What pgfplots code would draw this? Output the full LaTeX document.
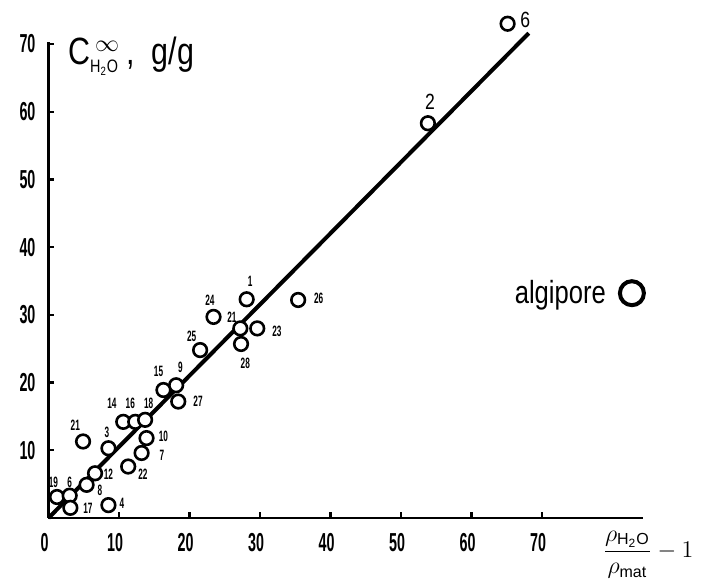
\documentclass[border=0pt]{standalone}
\usepackage{fontspec}
\setmainfont{Liberation Sans}
\newfontfamily\cond[FakeStretch=0.55]{Liberation Sans}
\newfontfamily\hand[FakeStretch=0.8]{Liberation Sans}
\usepackage{pgfplots}
\pgfplotsset{compat=1.18}
\usetikzlibrary{calc}

\pgfplotstableread{
x y
65.1 73.0
53.8 58.3
35.4 32.2
28.1 32.3
23.4 29.7
27.2 28.0
29.6 28.0
27.3 25.7
21.5 24.8
18.1 19.6
16.3 18.9
18.4 17.2
10.6 14.2
12.3 14.2
13.7 14.5
13.9 11.8
13.2 9.6
11.3 7.6
8.5 10.3
4.9 11.3
6.6 6.6
5.4 4.9
1.2 3.1
3.0 3.3
3.1 1.5
8.5 1.9
}\pts

\pgfplotstableread{
x y lab
28.6 34.9 1
22.9 32.2 24
26.0 29.7 21
32.4 27.5 23
27.9 22.9 28
38.3 32.5 26
20.3 26.8 25
18.7 22.3 9
15.6 21.6 15
21.2 17.2 27
9.0 16.9 14
11.6 16.9 16
14.2 16.9 18
16.3 12.0 10
16.1 9.3 7
13.4 6.4 22
8.3 12.7 3
3.8 13.7 21
8.5 6.4 12
7.3 4.1 8
0.7 5.2 19
3.0 5.2 6
5.6 1.4 17
10.4 2.2 4
}\labs

\pgfplotstableread{
x y lab
54.1 61.5 2
67.6 73.5 6
}\biglabs

\begin{document}
\begin{tikzpicture}
\begin{axis}[name=ax, scale only axis, width=297.25pt, height=238pt,
  xmin=0, xmax=84.3, ymin=0, ymax=70.3, clip=false,
  axis x line=bottom, axis y line=left,
  axis line style={-, line width=1.3pt},
  xtick={0,10,...,70}, ytick={10,20,...,70},
  tick align=inside, major tick length=3pt,
  tick style={line width=1.2pt, black},
  /pgf/number format/assume math mode=true,
  tick label style={font=\cond\bfseries\fontsize{13}{14}\selectfont},
  xticklabel style={yshift=-4pt, xshift=-2pt},
  yticklabel style={xshift=-3pt},
  legend plot pos=right,
  legend style={draw=none, fill=none, at={(axis cs:65.5,33.2)}, anchor=west,
    font=\hand\fontsize{16}{18}\selectfont, inner sep=0pt, column sep=5pt},
]
\addplot[line width=2pt, forget plot] coordinates {(0,0) (68.1,71.6)};
\addplot[only marks, mark=*, mark size=3.4pt,
  mark options={fill=white, draw=black, line width=1.3pt}, forget plot] table[x=x,y=y] {\pts};
\addplot[draw=none, mark=none, forget plot, nodes near coords,
  point meta=explicit symbolic,
  every node near coord/.append style={anchor=center, inner sep=0pt,
    font=\cond\bfseries\fontsize{7.5}{8}\selectfont}] table[x=x,y=y,meta=lab] {\labs};
\addplot[draw=none, mark=none, forget plot, nodes near coords,
  point meta=explicit symbolic,
  every node near coord/.append style={anchor=center, inner sep=0pt,
    font=\hand\fontsize{11}{12}\selectfont}] table[x=x,y=y,meta=lab] {\biglabs};
\addlegendimage{only marks, mark=o, mark size=6pt, line width=2pt}
\addlegendentry{algipore}
\node[anchor=base west, font=\hand\fontsize{19}{22}\selectfont] at (axis cs:1.8,67.0)
  {C$^{\,\mbox{\large$\infty$}}_{\mbox{\fontsize{9}{10}\selectfont H\textsubscript{2}O}}$\,,\ \ g/g};
\node[font=\large] at (axis cs:85.0,-5.4)
  {$\displaystyle\frac{\rho_{\mathrm{H_2O}}}{\rho_{\mathrm{mat}}}-1$};
\end{axis}
\pgfresetboundingbox
\useasboundingbox ($(ax.south west)+(-24.25pt,-32pt)$) rectangle ($(ax.south west)+(329.75pt,259pt)$);
\end{tikzpicture}
\end{document}
